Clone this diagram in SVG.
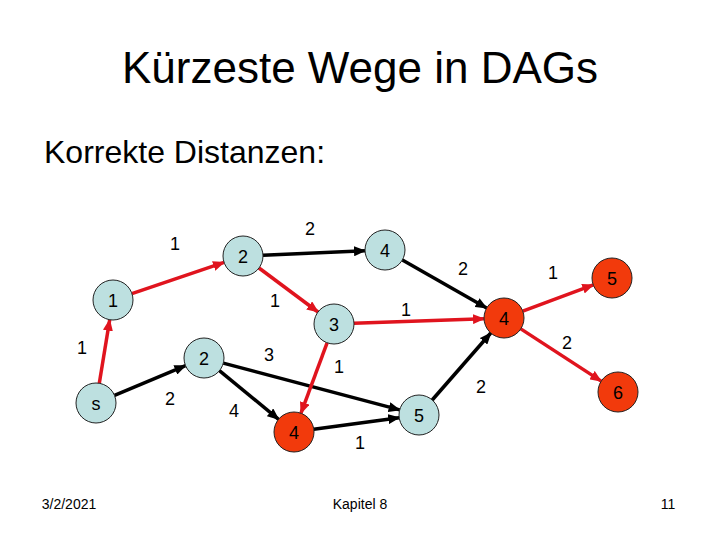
<svg xmlns="http://www.w3.org/2000/svg" width="720" height="540" viewBox="0 0 720 540">
<style>
text{font-family:"Liberation Sans",Arial,sans-serif;fill:#000;text-anchor:middle}
.node{stroke:#222;stroke-width:1}
.blue{fill:#BDE0E0}
.red{fill:#F23A0C}
.nl{font-size:18px}
.el{font-size:18px}
.e{stroke-width:3.5;fill:none}
.eb{stroke:#000}
.er{stroke:#E0141E}
</style>
<defs>
<marker id="ab" markerUnits="userSpaceOnUse" markerWidth="12" markerHeight="10" refX="11" refY="5" orient="auto"><path d="M0,0 L12,5 L0,10 z" fill="#000"/></marker>
<marker id="ar" markerUnits="userSpaceOnUse" markerWidth="12" markerHeight="10" refX="11" refY="5" orient="auto"><path d="M0,0 L12,5 L0,10 z" fill="#E0141E"/></marker>
</defs>
<rect width="720" height="540" fill="#fff"/>
<text x="360" y="83" style="font-size:44px">Kürzeste Wege in DAGs</text>
<text x="44" y="163" style="font-size:32px;text-anchor:start">Korrekte Distanzen:</text>
<g id="connectors">
<line class="e er" x1="99.3" y1="383.3" x2="109.7" y2="319.7" marker-end="url(#ar)"/>
<line class="e er" x1="131.9" y1="293.6" x2="224.1" y2="262.4" marker-end="url(#ar)"/>
<line class="e eb" x1="263" y1="255.2" x2="365" y2="250.8" marker-end="url(#ab)"/>
<line class="e er" x1="259" y1="268" x2="318" y2="312" marker-end="url(#ar)"/>
<line class="e eb" x1="402.4" y1="259.9" x2="486.6" y2="308.1" marker-end="url(#ab)"/>
<line class="e er" x1="354" y1="323.3" x2="484" y2="318.7" marker-end="url(#ar)"/>
<line class="e er" x1="522.8" y1="311.1" x2="593.3" y2="284.9" marker-end="url(#ar)"/>
<line class="e er" x1="520.8" y1="328.9" x2="601.2" y2="381.1" marker-end="url(#ar)"/>
<line class="e eb" x1="114.5" y1="395.3" x2="185.5" y2="365.7" marker-end="url(#ab)"/>
<line class="e eb" x1="223.3" y1="363.1" x2="399.7" y2="409.9" marker-end="url(#ab)"/>
<line class="e eb" x1="219.4" y1="370.7" x2="278.6" y2="419.3" marker-end="url(#ab)"/>
<line class="e er" x1="327.1" y1="342.8" x2="300.9" y2="413.3" marker-end="url(#ar)"/>
<line class="e eb" x1="313.8" y1="429.3" x2="399.2" y2="417.7" marker-end="url(#ab)"/>
<line class="e eb" x1="432.2" y1="400" x2="490.8" y2="333" marker-end="url(#ab)"/>
<text class="el" x="82" y="354">1</text>
<text class="el" x="175" y="250">1</text>
<text class="el" x="310" y="235">2</text>
<text class="el" x="275" y="307">1</text>
<text class="el" x="463" y="275">2</text>
<text class="el" x="406" y="316">1</text>
<text class="el" x="553" y="279">1</text>
<text class="el" x="567" y="349">2</text>
<text class="el" x="170" y="405">2</text>
<text class="el" x="269" y="361">3</text>
<text class="el" x="234" y="417">4</text>
<text class="el" x="339" y="373">1</text>
<text class="el" x="360" y="449">1</text>
<text class="el" x="481" y="393">2</text>
</g>
<g id="n1"><circle class="node blue" cx="113" cy="300" r="20"/><text class="nl" x="113" y="306.5">1</text></g>
<g id="n2top"><circle class="node blue" cx="243" cy="256" r="20"/><text class="nl" x="243" y="262.5">2</text></g>
<g id="n4top"><circle class="node blue" cx="385" cy="250" r="20"/><text class="nl" x="385" y="256.5">4</text></g>
<g id="n3"><circle class="node blue" cx="334" cy="324" r="20"/><text class="nl" x="334" y="330.5">3</text></g>
<g id="n4red"><circle class="node red" cx="504" cy="318" r="20"/><text class="nl" x="504" y="324.5">4</text></g>
<g id="n5red"><circle class="node red" cx="612" cy="278" r="20"/><text class="nl" x="612" y="284.5">5</text></g>
<g id="n6"><circle class="node red" cx="618" cy="392" r="20"/><text class="nl" x="618" y="398.5">6</text></g>
<g id="ns"><circle class="node blue" cx="96" cy="403" r="20"/><text class="nl" x="96" y="409.5">s</text></g>
<g id="n2mid"><circle class="node blue" cx="204" cy="358" r="20"/><text class="nl" x="204" y="364.5">2</text></g>
<g id="n4bot"><circle class="node red" cx="294" cy="432" r="20"/><text class="nl" x="294" y="438.5">4</text></g>
<g id="n5mid"><circle class="node blue" cx="419" cy="415" r="20"/><text class="nl" x="419" y="421.5">5</text></g>
<text x="69" y="509" style="font-size:14px">3/2/2021</text>
<text x="360" y="509" style="font-size:14px">Kapitel 8</text>
<text x="668" y="509" style="font-size:14px">11</text>
</svg>
